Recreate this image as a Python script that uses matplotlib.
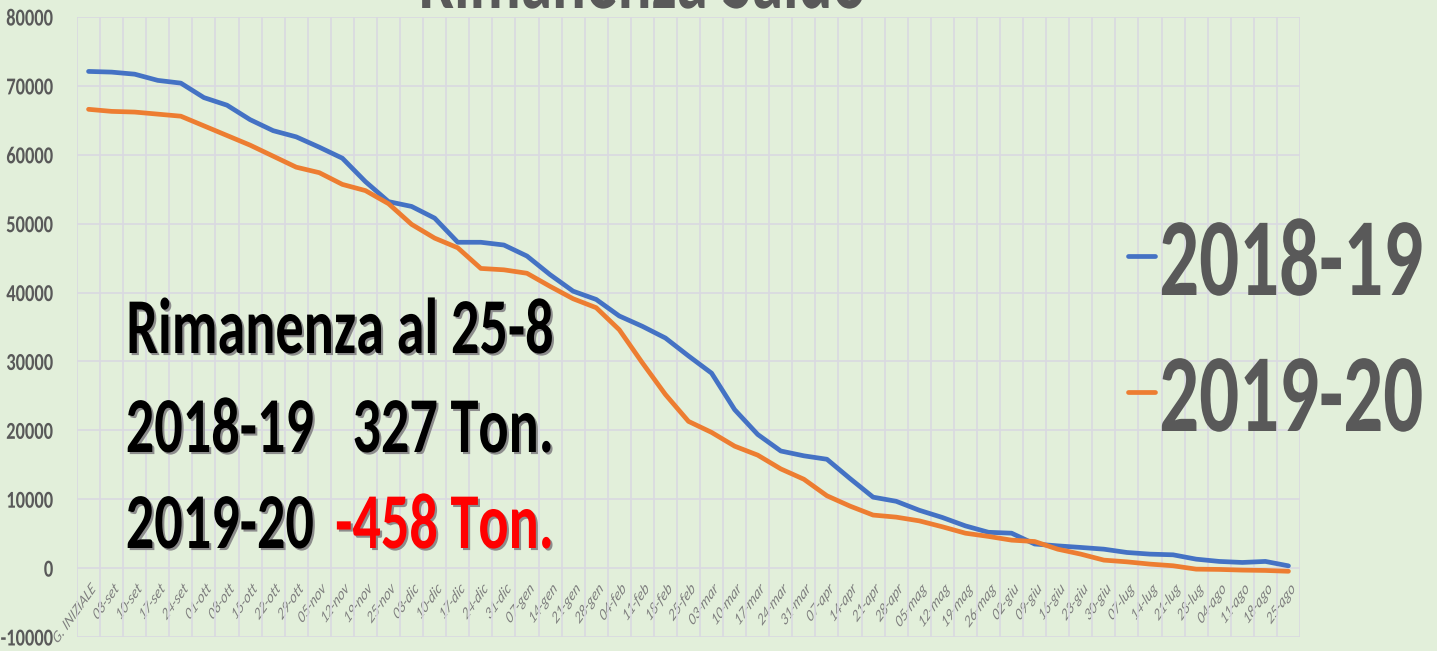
import numpy as np
import matplotlib
matplotlib.use("Agg")
import matplotlib.pyplot as plt
import matplotlib.patheffects as pe
from matplotlib.colors import to_rgba
from matplotlib.transforms import Affine2D

settimane = ["G. INIZIALE", "03-set", "10-set", "17-set", "24-set", "01-ott", "08-ott", "15-ott",
             "22-ott", "29-ott", "05-nov", "12-nov", "19-nov", "25-nov", "03-dic", "10-dic",
             "17-dic", "24-dic", "31-dic", "07-gen", "14-gen", "21-gen", "28-gen", "04-feb",
             "11-feb", "18-feb", "25-feb", "03-mar", "10-mar", "17-mar", "24-mar", "31-mar",
             "07-apr", "14-apr", "21-apr", "28-apr", "05-mag", "12-mag", "19-mag", "26-mag",
             "02-giu", "09-giu", "16-giu", "23-giu", "30-giu", "07-lug", "14-lug", "21-lug",
             "28-lug", "04-ago", "11-ago", "18-ago", "25-ago"]

saldo_2018_19 = [72100, 72000, 71700, 70800, 70400, 68300, 67200, 65100, 63500, 62600, 61100,
                 59500, 56100, 53200, 52500, 50800, 47300, 47300, 46900, 45300, 42600, 40200,
                 39000, 36600, 35100, 33400, 30800, 28300, 23000, 19400, 17000, 16300, 15800,
                 13000, 10300, 9700, 8400, 7350, 6130, 5200, 5070, 3500, 3230, 3000, 2750,
                 2270, 2030, 1930, 1300, 970, 820, 970, 327]

saldo_2019_20 = [66600, 66300, 66200, 65900, 65600, 64200, 62800, 61400, 59800, 58200, 57400,
                 55700, 54800, 52900, 49900, 47900, 46500, 43500, 43300, 42800, 40900, 39100,
                 37800, 34600, 29800, 25200, 21300, 19700, 17700, 16400, 14400, 12900, 10500,
                 9000, 7700, 7400, 6860, 6000, 5070, 4600, 4060, 3860, 2750, 2030, 1160,
                 910, 580, 340, -150, -190, -290, -340, -458]

stagioni = ["2018-19", "2019-20"]

SFONDO = "#e2efda"
GRIGLIA = "#d9d9e1"
GRIGIO = "#595959"
FONT = ["Carlito", "DejaVu Sans"]
SX = 0.71  # il testo dell'originale e' schiacciato in orizzontale


class Stretto(pe.AbstractPathEffect):
    """schiaccia il testo in orizzontale attorno a un lato (con ombra opzionale)"""
    def __init__(self, sx=SX, lato="left", offset=(0, 0), colore=None):
        super().__init__(offset)
        self.sx = sx
        self.lato = lato
        self.colore = colore

    def draw_path(self, renderer, gc, tpath, affine, rgbFace=None):
        ext = affine.transform_path(tpath).get_extents()
        x0 = {"left": ext.x0, "right": ext.x1, "center": 0.5 * (ext.x0 + ext.x1)}[self.lato]
        t = affine + Affine2D().translate(-x0, 0).scale(self.sx, 1).translate(x0, 0)
        t = t + self._offset_transform(renderer)
        if self.colore is not None:
            rgbFace = to_rgba(self.colore)
        renderer.draw_path(gc, tpath, t, rgbFace)


def stretto(lato, ombra=False, sx=SX):
    eff = []
    if ombra:
        eff.append(Stretto(sx, lato, offset=(1.5, -1.5), colore="#8c8c8c"))
    eff.append(Stretto(sx, lato))
    return eff


fig = plt.figure(figsize=(14.37, 6.51), dpi=100, facecolor=SFONDO)
ax = fig.add_axes([77/1437, 14/651, (1300-77)/1437, (637-17)/651])
ax.set_facecolor(SFONDO)

x = np.arange(len(settimane))
ax.plot(x, saldo_2018_19, color="#4472c4", lw=3.4, label=stagioni[0], solid_capstyle="round")
ax.plot(x, saldo_2019_20, color="#ed7d31", lw=3.4, label=stagioni[1], solid_capstyle="round")

ax.set_xlim(-0.5, len(settimane) - 0.5)
ax.set_ylim(-10000, 80000)
ax.set_yticks(np.arange(-10000, 80001, 10000))
ax.set_xticks(x)
ax.set_xticks(np.arange(-0.5, len(settimane), 1), minor=True)
ax.grid(True, which="major", axis="y", color=GRIGLIA, lw=1.2)
ax.grid(True, which="minor", axis="x", color=GRIGLIA, lw=1.2)
ax.set_axisbelow(True)
for s in ["top", "right", "left"]:
    ax.spines[s].set_visible(False)
ax.spines["bottom"].set_position(("data", 0))
ax.spines["bottom"].set_visible(False)
ax.tick_params(which="both", length=0)
ax.tick_params(axis="y", pad=17)
ax.tick_params(axis="x", pad=10)

ax.set_xticklabels(settimane, rotation=45, ha="right", rotation_mode="anchor",
                   fontstyle="italic", color="#7f7f7f", fontsize=12.5, family=FONT)
ax.set_yticklabels([f"{v}" for v in np.arange(-10000, 80001, 10000)],
                   fontweight="bold", color=GRIGIO, fontsize=17.5, family=FONT)
for t in ax.get_xticklabels():
    t.set_path_effects(stretto("right"))
for t in ax.get_yticklabels():
    t.set_path_effects(stretto("right", sx=0.76))

# titolo tagliato in alto
fig.text(642/1437, 1 - 8/651, "Rimanenza Saldo", ha="center", va="baseline",
         fontsize=64, fontweight="bold", color=GRIGIO, family=FONT,
         path_effects=stretto("center"))

# riquadro con le rimanenze
kw = dict(fontsize=57, fontweight="bold", family=FONT, va="baseline")
fig.text(125/1437, 1 - 353/651, "Rimanenza al 25-8", color="black", ha="left",
         path_effects=stretto("left", True), **kw)
fig.text(125/1437, 1 - 452/651, stagioni[0], color="black", ha="left",
         path_effects=stretto("left", True), **kw)
fig.text(555/1437, 1 - 452/651, f"{saldo_2018_19[-1]} Ton.", color="black", ha="right",
         path_effects=stretto("right", True), **kw)
fig.text(125/1437, 1 - 548/651, stagioni[1], color="black", ha="left",
         path_effects=stretto("left", True), **kw)
fig.text(555/1437, 1 - 548/651, f"{saldo_2019_20[-1]} Ton.", color="#ff0000", ha="right",
         path_effects=stretto("right", True), **kw)

leg = fig.legend(loc="upper left", bbox_to_anchor=(1128/1437, 1 - 217/651), frameon=False,
                 borderpad=0, borderaxespad=0, handlelength=0.244, handletextpad=0.027,
                 labelspacing=0.36, prop={"family": FONT, "weight": "bold", "size": 80})
for t in leg.get_texts():
    t.set_color(GRIGIO)
    t.set_path_effects(stretto("left"))

fig.savefig("out.png", dpi=100, facecolor=SFONDO)
